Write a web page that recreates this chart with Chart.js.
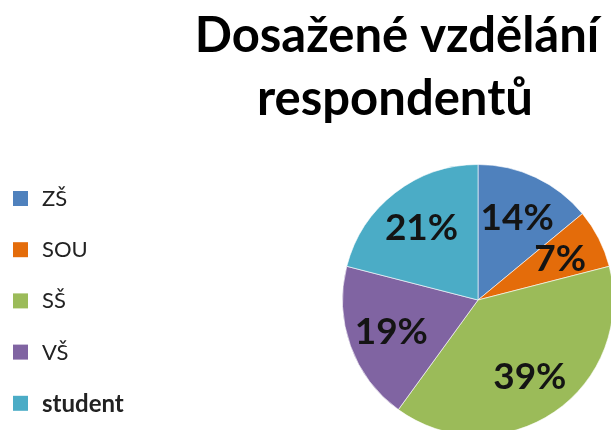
<!DOCTYPE html>
<html>
<head>
<meta charset="utf-8">
<script src="https://cdn.jsdelivr.net/npm/chart.js@4/dist/chart.umd.min.js"></script>
<style>
    html, body { margin: 0; padding: 0; background: #fff; overflow: hidden; width: 611px; height: 430px; }
    canvas { display: block; }
</style>
</head>
<body>
<canvas id="pieChart" width="640" height="460"></canvas>
<script>
// data
const categories = ['ZŠ', 'SOU', 'SŠ', 'VŠ', 'student'];
const shares = [14, 7, 39, 19, 21];
const sliceColors = ['#4F81BD', '#E46C0A', '#9BBB59', '#8064A2', '#4BACC6'];
const titleLines = ['Dosažené vzdělání', 'respondentů'];

// percent labels, title and the left legend
const overlay = {
    id: 'overlay',
    afterDatasetsDraw(chart) {
        const ctx = chart.ctx;
        const data = chart.data.datasets[0].data;
        const total = data.reduce((a, b) => a + b, 0);
        ctx.save();
        ctx.font = 'bold 37px Lato';
        ctx.fillStyle = '#141414';
        ctx.textAlign = 'center';
        ctx.textBaseline = 'middle';
        chart.getDatasetMeta(0).data.forEach((arc, i) => {
            const p = arc.getProps(['x', 'y', 'startAngle', 'endAngle', 'outerRadius'], true);
            const mid = (p.startAngle + p.endAngle) / 2;
            const r = p.outerRadius * 0.68;
            const pct = Math.round(data[i] / total * 100) + '%';
            ctx.fillText(pct, p.x + Math.cos(mid) * r, p.y + Math.sin(mid) * r + 1);
        });
        ctx.restore();
    },
    afterDraw(chart) {
        const ctx = chart.ctx;
        ctx.save();
        // title
        ctx.fillStyle = '#000';
        ctx.textAlign = 'center';
        ctx.textBaseline = 'alphabetic';
        ctx.font = 'bold 49px Lato';
        ctx.fillText(titleLines[0], 397, 52);
        ctx.fillText(titleLines[1], 395, 115);
        // legend
        ctx.textAlign = 'left';
        chart.data.labels.forEach((label, i) => {
            const cy = 198 + i * 51.2;
            const last = i === categories.length - 1;
            ctx.fillStyle = sliceColors[i];
            ctx.fillRect(13, cy - 7, 15, 15);
            ctx.fillStyle = '#222';
            ctx.font = last ? 'bold 24px Lato' : '22px Lato';
            ctx.fillText(label, 42, cy + (last ? 9 : 8));
        });
        ctx.restore();
    }
};

const ctx = document.getElementById('pieChart').getContext('2d');
const pieChart = new Chart(ctx, {
    type: 'pie',
    data: {
        labels: categories,
        datasets: [{
            data: shares,
            backgroundColor: sliceColors,
            borderColor: 'rgba(255, 255, 255, 0.6)',
            borderWidth: 1
        }]
    },
    options: {
        responsive: false,
        animation: false,
        layout: {
            padding: { left: 342, top: 164, right: 26, bottom: 24 }
        },
        plugins: {
            legend: { display: false },
            title: { display: false },
            tooltip: { enabled: false }
        }
    },
    plugins: [overlay]
});
</script>
</body>
</html>
